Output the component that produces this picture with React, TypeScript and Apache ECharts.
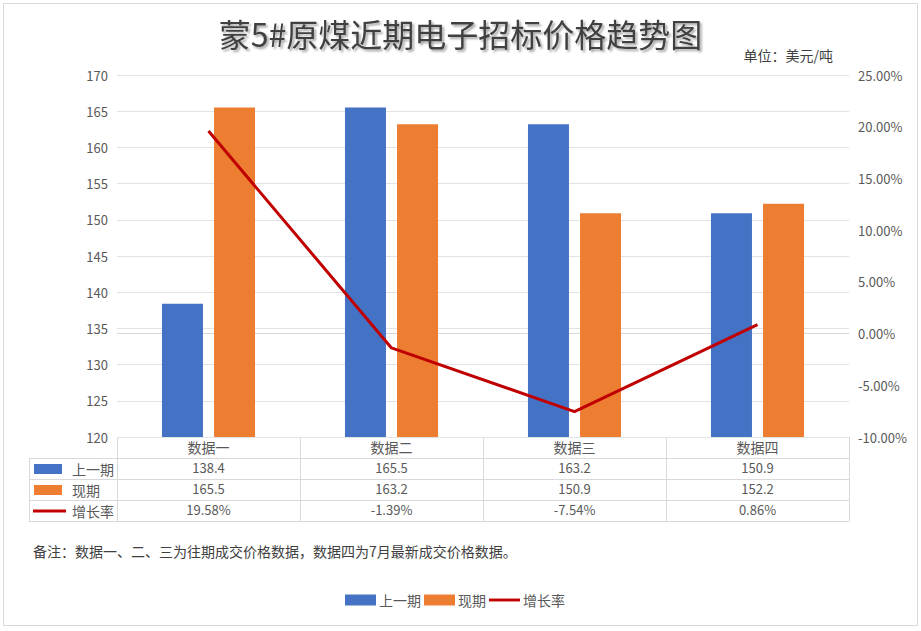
import React, { useEffect, useRef } from "react";
import * as echarts from "echarts";

const categories = ["数据一", "数据二", "数据三", "数据四"];
const prevValues = [138.4, 165.5, 163.2, 150.9];
const curValues = [165.5, 163.2, 150.9, 152.2];
const growthRates = [19.58, -1.39, -7.54, 0.86];
const seriesNames = ["上一期", "现期", "增长率"];
const titleText = "蒙5#原煤近期电子招标价格趋势图";
const unitText = "单位：美元/吨";
const noteText = "备注：数据一、二、三为往期成交价格数据，数据四为7月最新成交价格数据。";

const W = 921;
const H = 631;
const GL = 117;
const GR = 849;
const GT = 75;
const GB = 437;
const ROW = 21;
const TABLE_LEFT = 29;
const FONT = '"Noto Sans CJK SC", "Noto Sans", sans-serif';
const BLUE = "#4472c4";
const ORANGE = "#ed7d31";
const RED = "#c00000";
const LINE = "#d9d9d9";
const TXT = "#595959";

export default function App() {
  const ref = useRef<HTMLDivElement>(null);
  useEffect(() => {
    if (!ref.current) return;
    const chart = echarts.init(ref.current, undefined, { renderer: "svg" });
    const n = categories.length;
    const colW = (GR - GL) / n;
    const graphics: any[] = [];
    graphics.push({
      type: "rect",
      shape: { x: 3.5, y: 3.5, width: W - 7, height: H - 9 },
      style: { fill: "none", stroke: LINE, lineWidth: 1 },
      silent: true,
      z: -10,
    });
    for (let r = 1; r <= 4; r++) {
      const y = GB + r * ROW + 0.5;
      graphics.push({
        type: "line",
        shape: { x1: TABLE_LEFT, y1: y, x2: GR, y2: y },
        style: { stroke: LINE, lineWidth: 1 },
      });
    }
    for (let c = 0; c <= n; c++) {
      const x = Math.round(GL + c * colW) + 0.5;
      graphics.push({
        type: "line",
        shape: { x1: x, y1: GB, x2: x, y2: GB + 4 * ROW },
        style: { stroke: LINE, lineWidth: 1 },
      });
    }
    graphics.push({
      type: "line",
      shape: { x1: TABLE_LEFT + 0.5, y1: GB + ROW, x2: TABLE_LEFT + 0.5, y2: GB + 4 * ROW },
      style: { stroke: LINE, lineWidth: 1 },
    });
    const rowColors = [BLUE, ORANGE, RED];
    for (let r = 0; r < 3; r++) {
      const cy = GB + (r + 1) * ROW + ROW / 2 + 0.5;
      if (r < 2) {
        graphics.push({
          type: "rect",
          shape: { x: 34, y: cy - 5, width: 28, height: 10 },
          style: { fill: rowColors[r] },
        });
      } else {
        graphics.push({
          type: "line",
          shape: { x1: 33, y1: cy, x2: 66, y2: cy },
          style: { stroke: RED, lineWidth: 3 },
        });
      }
      graphics.push({
        type: "text",
        x: 72,
        y: cy,
        style: {
          text: seriesNames[r],
          fill: TXT,
          font: `14px ${FONT}`,
          verticalAlign: "middle",
          align: "left",
        },
      });
    }
    graphics.push({
      type: "text",
      x: 833,
      y: 55,
      style: { text: unitText, fill: "#404040", font: `14px ${FONT}`, align: "right", verticalAlign: "middle" },
    });
    graphics.push({
      type: "text",
      x: 33,
      y: 551,
      style: { text: noteText, fill: "#404040", font: `14px ${FONT}`, align: "left", verticalAlign: "middle" },
    });

    const hiddenAxisBase = {
      type: "category",
      data: categories,
      position: "bottom",
      axisLine: { show: false },
      axisTick: { show: false },
      splitLine: { show: false },
    };
    const rowAxis = (offset: number, fmt: (i: number) => string) => ({
      ...hiddenAxisBase,
      offset,
      axisLabel: {
        color: TXT,
        fontSize: 13,
        fontFamily: FONT,
        margin: 3,
        interval: 0,
        formatter: (_v: string, i: number) => fmt(i),
      },
    });

    chart.setOption({
      animation: false,
      backgroundColor: "#ffffff",
      title: {
        text: titleText,
        left: "center",
        top: 12,
        textStyle: {
          fontFamily: FONT,
          fontSize: 32,
          fontWeight: "normal",
          color: "#404040",
          textShadowColor: "rgba(0,0,0,0.35)",
          textShadowBlur: 2,
          textShadowOffsetX: 2,
          textShadowOffsetY: 2,
        },
      },
      legend: {
        bottom: 19,
        left: 340,
        itemGap: 3,
        itemWidth: 31,
        itemHeight: 11,
        textStyle: { color: TXT, fontSize: 14, fontFamily: FONT, padding: [0, 0, 0, -2] },
        data: [
          { name: seriesNames[0], icon: "rect" },
          { name: seriesNames[1], icon: "rect" },
          { name: seriesNames[2], icon: "path://M0 0H32V3H0Z" },
        ],
      },
      grid: { left: GL, right: W - GR, top: GT, bottom: H - GB, containLabel: false },
      xAxis: [
        {
          type: "category",
          data: categories,
          position: "bottom",
          axisLine: { show: true, lineStyle: { color: LINE } },
          axisTick: { show: false },
          axisLabel: { color: TXT, fontSize: 14, fontFamily: FONT, margin: 3, interval: 0 },
        },
        rowAxis(ROW, (i) => prevValues[i].toFixed(1)),
        rowAxis(ROW * 2, (i) => curValues[i].toFixed(1)),
        rowAxis(ROW * 3, (i) => growthRates[i].toFixed(2) + "%"),
      ],
      yAxis: [
        {
          type: "value",
          min: 120,
          max: 170,
          interval: 5,
          axisLine: { show: false },
          axisTick: { show: false },
          splitLine: { lineStyle: { color: "#e3e3e3" } },
          axisLabel: { color: TXT, fontSize: 13, fontFamily: FONT, margin: 9 },
        },
        {
          type: "value",
          min: -10,
          max: 25,
          interval: 5,
          position: "right",
          axisLine: { show: false },
          axisTick: { show: false },
          splitLine: { show: false },
          axisLabel: {
            color: TXT,
            fontSize: 13,
            fontFamily: FONT,
            margin: 9,
            formatter: (v: number) => v.toFixed(2) + "%",
          },
        },
      ],
      series: [
        {
          name: seriesNames[0],
          type: "bar",
          data: prevValues,
          barWidth: 41,
          barGap: "27%",
          itemStyle: { color: BLUE },
        },
        {
          name: seriesNames[1],
          type: "bar",
          data: curValues,
          barWidth: 41,
          barGap: "27%",
          itemStyle: { color: ORANGE },
        },
        {
          name: seriesNames[2],
          type: "line",
          yAxisIndex: 1,
          data: growthRates,
          showSymbol: false,
          symbol: "none",
          lineStyle: { color: RED, width: 3 },
          itemStyle: { color: RED },
          z: 5,
        },
      ],
      graphic: graphics,
    });
    return () => chart.dispose();
  }, []);
  return (
    <div
      ref={ref}
      style={{ position: "fixed", left: 0, top: 0, width: W, height: H, background: "#fff" }}
    />
  );
}
